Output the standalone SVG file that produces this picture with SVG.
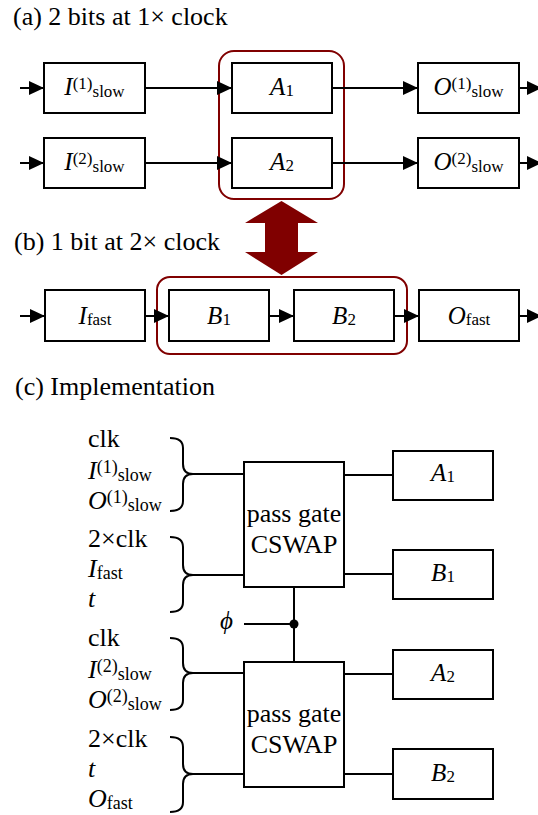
<svg xmlns="http://www.w3.org/2000/svg" width="538" height="815" viewBox="0 0 538 815">
<style>
.t{font-family:"Liberation Serif","Times New Roman",serif;fill:#000}
.title{font-size:26px}
.lbl{font-size:25px}
.lbl2{font-size:26px}
.gate{font-size:26px}
.it{font-style:italic}
.s{font-size:17px;font-style:normal}
.s2{font-size:18px;font-style:normal}
.box{fill:#fff;stroke:#000;stroke-width:2}
.ln{stroke:#000;stroke-width:2;fill:none}
.arr{stroke:#000;stroke-width:2;fill:none;marker-end:url(#ah)}
.red{fill:none;stroke:#800000;stroke-width:2}
</style>
<defs>
<marker id="ah" markerUnits="userSpaceOnUse" markerWidth="15" markerHeight="14" viewBox="0 0 15 14" refX="15" refY="7" orient="auto">
<path d="M0,0 L15,7 L0,14 z" fill="#000"/>
</marker>
</defs>
<rect width="538" height="815" fill="#fff"/>

<g id="titles" class="t title">
<text x="13" y="25">(a) 2 bits at 1× clock</text>
<text x="14" y="250">(b) 1 bit at 2× clock</text>
<text x="15" y="395">(c) Implementation</text>
</g>

<g id="groups">
<rect class="red" x="219" y="51" width="125" height="148" rx="15"/>
<rect class="red" x="157" y="277" width="250" height="77" rx="13"/>
<polygon points="281.5,201 318,223 298,223 298,252 318,252 281.5,275 245,252 265,252 265,223 245,223" fill="#800000"/>
</g>

<g id="connectors">
<path class="arr" d="M20,88 H44"/>
<path class="arr" d="M145,88 H232"/>
<path class="arr" d="M332,88 H418"/>
<path class="arr" d="M519,88 H542"/>
<path class="arr" d="M20,163 H44"/>
<path class="arr" d="M145,163 H232"/>
<path class="arr" d="M332,163 H418"/>
<path class="arr" d="M519,163 H542"/>
<path class="arr" d="M20,316 H45"/>
<path class="arr" d="M145,316 H169"/>
<path class="arr" d="M269,316 H294"/>
<path class="arr" d="M394,316 H419"/>
<path class="arr" d="M519,316 H542"/>
<path class="ln" d="M170,438 Q183,438 183,448 L183,464 Q183,474 193,474 Q183,474 183,484 L183,501 Q183,511 170,511"/>
<path class="ln" d="M170,537 Q183,537 183,547 L183,565 Q183,575 193,575 Q183,575 183,585 L183,602 Q183,612 170,612"/>
<path class="ln" d="M170,638 Q183,638 183,648 L183,663 Q183,673 193,673 Q183,673 183,683 L183,700 Q183,710 170,710"/>
<path class="ln" d="M170,737 Q183,737 183,747 L183,764 Q183,774 193,774 Q183,774 183,784 L183,802 Q183,812 170,812"/>
<path class="ln" d="M193,474 H244 M193,575 H244 M193,673 H244 M193,774 H244"/>
<path class="ln" d="M344,475 H393 M344,574 H393 M344,674 H393 M344,774 H393"/>
<path class="ln" d="M294,587 V662 M244,624 H294"/>
<circle cx="294" cy="624" r="4.5" fill="#000"/>
</g>

<g id="I1slow"><rect class="box" x="44" y="63" width="101" height="50"/>
<text class="t lbl" x="94.5" y="95" text-anchor="middle"><tspan class="it">I</tspan><tspan class="s" dy="-6">(1)</tspan><tspan class="s" dy="7.5">slow</tspan></text></g>
<g id="I2slow"><rect class="box" x="44" y="138" width="101" height="50"/>
<text class="t lbl" x="94.5" y="170" text-anchor="middle"><tspan class="it">I</tspan><tspan class="s" dy="-6">(2)</tspan><tspan class="s" dy="7.5">slow</tspan></text></g>
<g id="A1"><rect class="box" x="232" y="63" width="100" height="50"/>
<text class="t lbl" x="282" y="95" text-anchor="middle"><tspan class="it">A</tspan><tspan class="s" dy="1">1</tspan></text></g>
<g id="A2"><rect class="box" x="232" y="138" width="100" height="50"/>
<text class="t lbl" x="282" y="170" text-anchor="middle"><tspan class="it">A</tspan><tspan class="s it" dy="1">2</tspan></text></g>
<g id="O1slow"><rect class="box" x="418" y="63" width="101" height="50"/>
<text class="t lbl" x="468.5" y="95" text-anchor="middle"><tspan class="it">O</tspan><tspan class="s" dy="-6">(1)</tspan><tspan class="s" dy="7.5">slow</tspan></text></g>
<g id="O2slow"><rect class="box" x="418" y="138" width="101" height="50"/>
<text class="t lbl" x="468.5" y="170" text-anchor="middle"><tspan class="it">O</tspan><tspan class="s" dy="-6">(2)</tspan><tspan class="s" dy="7.5">slow</tspan></text></g>

<g id="Ifast"><rect class="box" x="45" y="290" width="100" height="51"/>
<text class="t lbl" x="95" y="323.5" text-anchor="middle"><tspan class="it">I</tspan><tspan class="s" dy="1">fast</tspan></text></g>
<g id="B1"><rect class="box" x="169" y="290" width="100" height="51"/>
<text class="t lbl" x="219" y="323.5" text-anchor="middle"><tspan class="it">B</tspan><tspan class="s" dy="1">1</tspan></text></g>
<g id="B2"><rect class="box" x="294" y="290" width="100" height="51"/>
<text class="t lbl" x="344" y="323.5" text-anchor="middle"><tspan class="it">B</tspan><tspan class="s" dy="1">2</tspan></text></g>
<g id="Ofast"><rect class="box" x="419" y="290" width="100" height="51"/>
<text class="t lbl" x="469" y="323.5" text-anchor="middle"><tspan class="it">O</tspan><tspan class="s" dy="1">fast</tspan></text></g>

<g id="labels1" class="t lbl2">
<text x="88" y="447">clk</text>
<text x="88" y="479"><tspan class="it">I</tspan><tspan class="s2" dy="-6">(1)</tspan><tspan class="s2" dy="8">slow</tspan></text>
<text x="88" y="509"><tspan class="it">O</tspan><tspan class="s2" dy="-6">(1)</tspan><tspan class="s2" dy="8">slow</tspan></text>
</g>
<g id="labels2" class="t lbl2">
<text x="88" y="547">2×clk</text>
<text x="88" y="577"><tspan class="it">I</tspan><tspan class="s2" dy="2">fast</tspan></text>
<text x="88" y="607" class="it">t</text>
</g>
<g id="labels3" class="t lbl2">
<text x="88" y="646">clk</text>
<text x="88" y="678"><tspan class="it">I</tspan><tspan class="s2" dy="-6">(2)</tspan><tspan class="s2" dy="8">slow</tspan></text>
<text x="88" y="708"><tspan class="it">O</tspan><tspan class="s2" dy="-6">(2)</tspan><tspan class="s2" dy="8">slow</tspan></text>
</g>
<g id="labels4" class="t lbl2">
<text x="88" y="747">2×clk</text>
<text x="88" y="777" class="it">t</text>
<text x="88" y="807"><tspan class="it">O</tspan><tspan class="s2" dy="2">fast</tspan></text>
</g>

<g id="phi"><text class="t lbl it" x="220" y="629">ϕ</text></g>

<g id="gate1"><rect class="box" x="244" y="462" width="100" height="125"/>
<text class="t gate" x="294" y="522" text-anchor="middle">pass gate</text>
<text class="t gate" x="294" y="553" text-anchor="middle">CSWAP</text></g>
<g id="gate2"><rect class="box" x="244" y="662" width="100" height="125"/>
<text class="t gate" x="294" y="722" text-anchor="middle">pass gate</text>
<text class="t gate" x="294" y="753" text-anchor="middle">CSWAP</text></g>

<g id="cA1"><rect class="box" x="393" y="451" width="100" height="49"/>
<text class="t lbl" x="443" y="481" text-anchor="middle"><tspan class="it">A</tspan><tspan class="s" dy="1">1</tspan></text></g>
<g id="cB1"><rect class="box" x="393" y="550" width="100" height="49"/>
<text class="t lbl" x="443" y="581" text-anchor="middle"><tspan class="it">B</tspan><tspan class="s" dy="1">1</tspan></text></g>
<g id="cA2"><rect class="box" x="393" y="650" width="100" height="49"/>
<text class="t lbl" x="443" y="681" text-anchor="middle"><tspan class="it">A</tspan><tspan class="s" dy="1">2</tspan></text></g>
<g id="cB2"><rect class="box" x="393" y="749" width="100" height="50"/>
<text class="t lbl" x="443" y="781" text-anchor="middle"><tspan class="it">B</tspan><tspan class="s" dy="1">2</tspan></text></g>
</svg>
